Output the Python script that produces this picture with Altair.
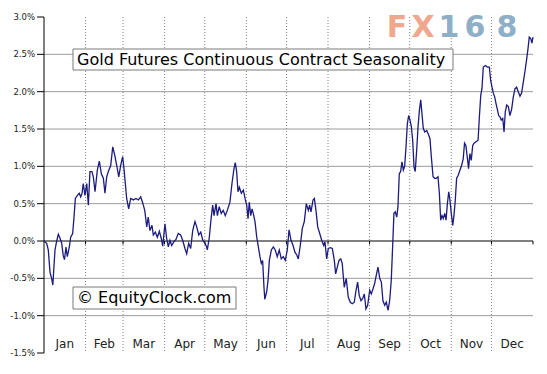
import altair as alt
import pandas as pd

# ---- data (day of year, seasonal % change) ----
DAYS = [0, 2.0, 3.2, 4.5, 5.7, 6.6, 8.2, 9.5, 10.7, 11.9, 13.2, 14.4, 15.3, 16.4, 17.4,
        18.9, 19.9, 21.4, 22.4, 23.4, 24.9, 26.3, 27.4, 28.4, 29.3, 30.6, 31.9, 33.1,
        34.3, 35.8, 36.8, 38.1, 39.8, 41.3, 42.8, 44.3, 45.5, 46.8, 48.0, 49.8, 51.3,
        52.8, 54.3, 55.8, 57.2, 58.7, 59.7, 60.5, 61.7, 63.2, 64.7, 66.7, 68.7, 70.4,
        72.2, 73.7, 75.2, 76.7, 77.8, 79.1, 80.6, 81.6, 83.1, 84.6, 86.1, 87.6, 88.6,
        90.3, 91.6, 92.8, 94.0, 95.3, 97.0, 98.5, 100.2, 102.0, 103.5, 105.2, 106.5,
        108.0, 109.5, 111.0, 112.7, 114.0, 115.5, 117.0, 118.5, 120.2, 121.4, 121.9,
        123.4, 124.6, 125.9, 126.9, 128.4, 129.4, 130.8, 132.3, 133.8, 135.3, 136.8,
        138.8, 140.3, 141.8, 142.8, 143.8, 144.8, 145.8, 147.3, 148.8, 150.3, 151.3,
        152.3, 153.2, 154.3, 155.3, 156.2, 157.5, 158.8, 160.0, 161.2, 162.2, 163.2,
        164.2, 164.8, 166.2, 167.2, 168.2, 169.7, 171.2, 172.6, 174.1, 175.6, 177.1,
        178.6, 180.1, 181.6, 182.9, 184.4, 185.9, 187.3, 188.8, 189.8, 191.3, 192.8,
        194.3, 195.8, 197.3, 198.3, 199.3, 200.8, 201.8, 203.0, 204.3, 205.8, 207.3,
        208.8, 209.7, 211.0, 212.2, 213.7, 215.2, 216.7, 217.7, 218.9, 220.2, 221.5,
        222.6, 224.1, 225.6, 227.1, 228.6, 230.1, 231.6, 232.9, 234.1, 235.3, 236.6,
        237.9, 239.1, 240.3, 241.6, 243.1, 244.3, 245.6, 246.8, 248.0, 249.3, 250.6,
        251.8, 253.0, 254.3, 255.5, 256.8, 258.0, 259.2, 260.3, 261.2, 262.2, 263.3,
        264.2, 265.2, 266.2, 267.2, 268.2, 269.2, 270.2, 271.2, 272.2, 273.2, 274.2,
        275.2, 276.2, 277.1, 278.2, 279.2, 280.2, 281.2, 282.1, 283.1, 284.2, 285.7,
        287.1, 288.1, 289.1, 290.4, 291.6, 292.8, 294.1, 295.1, 296.1, 297.1, 298.0,
        299.1, 300.1, 301.0, 302.1, 303.0, 304.0, 305.1, 306.0, 307.0, 308.0, 309.2,
        310.5, 311.7, 312.9, 313.9, 314.9, 315.9, 316.9, 317.9, 318.9, 320.0, 321.0,
        322.5, 324.0, 324.9, 326.0, 326.9, 327.9, 329.4, 330.9, 332.4, 333.4, 334.4,
        335.4, 336.4, 337.4, 338.3, 339.4, 340.4, 341.3, 342.4, 343.4, 344.3, 345.4,
        346.6, 347.8, 349.1, 350.3, 351.6, 352.8, 354.0, 355.3, 356.5, 357.8, 359.0,
        360.3, 361.3, 362.2, 363.3, 364.2, 365.0]

PCT = [0.0, -0.03, -0.12, -0.42, -0.50, -0.59, -0.12, 0.0, 0.09, 0.04, -0.03, -0.20, -0.25,
       -0.08, -0.21, -0.08, 0.05, 0.10, 0.32, 0.57, 0.61, 0.64, 0.59, 0.64, 0.77, 0.61,
       0.77, 0.48, 0.93, 0.93, 0.86, 0.66, 0.95, 1.07, 0.90, 0.84, 0.64, 0.86, 0.93, 1.01,
       1.26, 1.15, 1.01, 0.86, 1.01, 1.13, 0.97, 0.81, 0.57, 0.43, 0.57, 0.55, 0.57, 0.55,
       0.59, 0.51, 0.41, 0.19, 0.32, 0.14, 0.21, 0.08, 0.12, 0.05, 0.13, 0.03, -0.07,
       0.23, 0.03, -0.08, 0.01, -0.06, -0.01, 0.02, 0.10, 0.08, 0.01, -0.10, -0.17,
       -0.03, -0.10, 0.14, 0.26, 0.19, 0.08, 0.12, 0.01, -0.03, -0.08, -0.12,
       0.05, 0.28, 0.48, 0.34, 0.50, 0.34, 0.46, 0.37, 0.41, 0.34, 0.41,
       0.52, 0.77, 0.97, 1.05, 0.93, 0.66, 0.72, 0.64, 0.68, 0.55, 0.48,
       0.30, 0.52, 0.34, 0.43, 0.37, 0.26, 0.05, -0.08, -0.21, -0.30, -0.26,
       -0.62, -0.78, -0.68, -0.53, -0.26, -0.12, -0.08, -0.12, -0.21, -0.12, -0.24,
       -0.21, -0.26, -0.12, 0.15, 0.01, -0.06, -0.15, -0.19, -0.24, -0.06, 0.17,
       0.26, 0.50, 0.41, 0.48, 0.39, 0.55, 0.57, 0.41, 0.19, 0.10, 0.01,
       -0.06, -0.01, -0.24, -0.10, -0.09, -0.10, -0.26, -0.44, -0.35, -0.26, -0.24,
       -0.30, -0.62, -0.50, -0.75, -0.82, -0.84, -0.82, -0.66, -0.55, -0.73, -0.80,
       -0.77, -0.71, -0.91, -0.86, -0.66, -0.71, -0.64, -0.57, -0.46, -0.35, -0.50,
       -0.55, -0.80, -0.86, -0.82, -0.93, -0.80, -0.53, -0.04, 0.37, 0.39, 0.32,
       0.46, 0.90, 0.93, 1.06, 0.95, 1.00, 1.26, 1.57, 1.68, 1.62, 1.53,
       1.35, 0.99, 0.93, 1.22, 1.53, 1.75, 1.89, 1.71, 1.51, 1.46, 1.48,
       1.42, 1.37, 1.13, 0.86, 0.84, 0.84, 0.86, 0.64, 0.28, 0.34, 0.30,
       0.37, 0.28, 0.48, 0.66, 0.55, 0.37, 0.21, 0.34, 0.55, 0.84, 0.88,
       0.95, 1.01, 1.10, 1.31, 1.28, 1.13, 0.97, 1.17, 1.08, 1.28, 1.31,
       1.33, 1.35, 1.64, 1.95, 2.04, 2.33, 2.35, 2.33, 2.33, 2.15, 2.06,
       1.98, 1.93, 1.84, 1.77, 1.68, 1.66, 1.62, 1.64, 1.46, 1.73, 1.82,
       1.80, 1.68, 1.77, 1.93, 2.04, 2.06, 2.00, 1.94, 1.98, 2.13, 2.27,
       2.44, 2.58, 2.73, 2.71, 2.65, 2.73]

MONTHS = ["Jan", "Feb", "Mar", "Apr", "May", "Jun", "Jul", "Aug", "Sep", "Oct", "Nov", "Dec"]
MONTH_MID = [15.5, 45, 74.5, 105, 135.5, 166, 196.5, 227.5, 258, 288.5, 319, 349.5]
MONTH_EDGES = [31, 59, 90, 120, 151, 181, 212, 243, 273, 304, 334]
ZERO_TICKS = [31, 59, 90, 120, 151, 181, 212, 243, 273, 304, 334, 365]
Y_TICKS = [-1.5, -1.0, -0.5, 0.0, 0.5, 1.0, 1.5, 2.0, 2.5, 3.0]
Y_LABELS = ["-1.5%", "-1.0%", "-0.5%", "0.0%", "0.5%", "1.0%", "1.5%", "2.0%", "2.5%", "3.0%"]
GRID_LEVELS = [-1.0, -0.5, 0.5, 1.0, 1.5, 2.0, 2.5]

TITLE = "Gold Futures Continuous Contract Seasonality"
SOURCE = "\u00a9 EquityClock.com"
LOGO_CHARS = ["F", "X", "1", "6", "8"]
LOGO_COLORS = ["#F0A78E", "#F0A78E", "#8EAFC7", "#8EAFC7", "#8EAFC7"]

W, H = 489, 336
FONT = "DejaVu Sans"
xs = alt.Scale(domain=[0, 365], nice=False, zero=False)
ys = alt.Scale(domain=[-1.5, 3.0], nice=False, zero=False)

one = pd.DataFrame({"k": [0]})
ytab = pd.DataFrame({"v": Y_TICKS, "lab": Y_LABELS})

# hand-built y axis (ticks, labels, domain line) positioned through the y scale
yticks = alt.Chart(ytab).mark_rule(color="black", strokeWidth=1).encode(
    y=alt.Y("v:Q", scale=ys, axis=None), x=alt.value(-7), x2=alt.value(0)
)
ylabels = alt.Chart(ytab).mark_text(
    font=FONT, fontSize=8.5, color="#222222", align="right", baseline="middle"
).encode(y=alt.Y("v:Q", scale=ys, axis=None), x=alt.value(-9), text="lab:N")
ydomain = alt.Chart(pd.DataFrame({"a": [Y_TICKS[-1]], "b": [Y_TICKS[0]]})).mark_rule(
    color="black", strokeWidth=1
).encode(y=alt.Y("a:Q", scale=ys, axis=None), y2="b:Q", x=alt.value(0))

grid = alt.Chart(pd.DataFrame({"g": GRID_LEVELS})).mark_rule(
    color="#9c9c9c", strokeWidth=1
).encode(y=alt.Y("g:Q", scale=ys, axis=None))

vgrid = alt.Chart(pd.DataFrame({"d": MONTH_EDGES})).mark_rule(
    color="#808080", strokeWidth=1, strokeDash=[1, 2]
).encode(x=alt.X("d:Q", scale=xs, axis=None))

zero = alt.Chart(pd.DataFrame({"z": [0.0]})).mark_rule(color="black", strokeWidth=1).encode(
    y=alt.Y("z:Q", scale=ys, axis=None)
)

zticks = alt.Chart(pd.DataFrame({"d": ZERO_TICKS, "z0": [0.0] * 12, "z1": [-0.045] * 12})).mark_rule(
    color="black", strokeWidth=1
).encode(
    x=alt.X("d:Q", scale=xs, axis=None),
    y=alt.Y("z0:Q", scale=ys, axis=None),
    y2="z1:Q",
)

line = alt.Chart(pd.DataFrame({"day": DAYS, "pct": PCT})).mark_line(
    color="#1b1b80", strokeWidth=1.3
).encode(
    x=alt.X("day:Q", scale=xs, axis=None),
    y=alt.Y("pct:Q", scale=ys, axis=None),
)

months = alt.Chart(pd.DataFrame({"m": MONTHS, "mid": MONTH_MID})).mark_text(
    font=FONT, fontSize=12, color="#222222", baseline="middle", align="center"
).encode(
    x=alt.X("mid:Q", scale=xs, axis=None),
    y=alt.value(327),
    text="m:N",
)

title_box = alt.Chart(one).mark_rect(fill="white", stroke="#7a7a7a", strokeWidth=1).encode(
    x=alt.value(29), x2=alt.value(409), y=alt.value(32), y2=alt.value(53)
)
title_txt = alt.Chart(one).mark_text(
    font=FONT, fontSize=16, color="black", align="left", baseline="middle"
).encode(x=alt.value(33), y=alt.value(42.5), text=alt.value(TITLE))

src_box = alt.Chart(one).mark_rect(fill="white", stroke="#7a7a7a", strokeWidth=1).encode(
    x=alt.value(29), x2=alt.value(192), y=alt.value(270), y2=alt.value(292)
)
src_txt = alt.Chart(one).mark_text(
    font=FONT, fontSize=16, color="black", align="left", baseline="middle"
).encode(x=alt.value(33), y=alt.value(281), text=alt.value(SOURCE))

LOGO_X = [353, 379, 405, 431, 463]
logo = alt.Chart(
    pd.DataFrame({"c": LOGO_CHARS, "col": LOGO_COLORS, "px": LOGO_X})
).mark_text(
    font=FONT, fontSize=30, fontWeight="bold", align="center", baseline="alphabetic"
).encode(
    x=alt.X("px:Q", scale=None, axis=None),
    y=alt.value(20),
    text="c:N",
    color=alt.Color("col:N", scale=None, legend=None),
)

chart = alt.layer(
    grid, vgrid, zero, zticks, ydomain, yticks, ylabels,
    title_box, title_txt, src_box, src_txt, line, months, logo
).properties(
    width=W,
    height=H,
    autosize=alt.AutoSizeParams(type="none"),
    padding={"left": 36, "top": 9, "right": 6, "bottom": 6},
    background="white",
).configure_view(strokeOpacity=0)

chart.save("out.html", embed_options={"renderer": "svg", "actions": False})
